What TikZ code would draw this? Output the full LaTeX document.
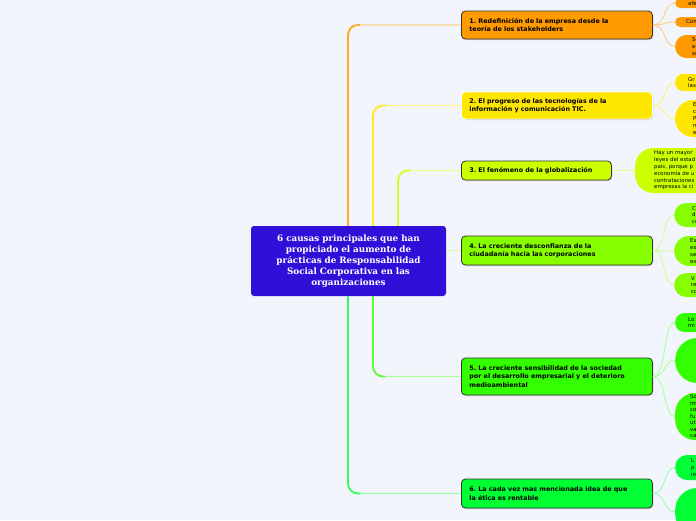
\documentclass[tikz,border=0pt]{standalone}
\usepackage{fontspec}
\newfontfamily\verd{DejaVu Sans}
\newfontfamily\geor{DejaVu Serif}
\usetikzlibrary{calc, positioning, shadows}
\frenchspacing

\definecolor{bgc}{HTML}{F3F5FC}
\definecolor{rootc}{HTML}{3010D8}
\definecolor{c1}{HTML}{FF9A00}
\definecolor{c2}{HTML}{FFE600}
\definecolor{c3}{HTML}{CCFF00}
\definecolor{c4}{HTML}{88FF00}
\definecolor{c5}{HTML}{33FF00}
\definecolor{c6}{HTML}{00FF33}

\tikzset{
  rootbox/.style={fill=rootc, rounded corners=3pt, minimum width=195pt, minimum height=70pt,
    text width=190pt, inner sep=0pt, align=center, text=white,
    font=\geor\bfseries\fontsize{8.8}{11}\selectfont},
  branch/.style={fill=#1, draw=black!80, line width=0.8pt, rounded corners=4pt, anchor=west,
    minimum width=191pt, text width=175pt, inner xsep=8pt, inner ysep=0pt, align=left,
    font=\verd\bfseries\fontsize{6.4}{8.5}\selectfont,
    drop shadow={shadow xshift=1pt, shadow yshift=-1pt, opacity=0.35}},
  leaf/.style={fill=#1, anchor=west, inner xsep=14pt, inner ysep=0pt, text width=60pt,
    align=left, font=\verd\fontsize{5.4}{6.8}\selectfont},
  hard/.style={draw=#1, line width=1.8pt, rounded corners=10pt},
  soft/.style={draw=#1, line width=1.2pt, rounded corners=10pt},
  twig/.style={draw=#1, line width=0.9pt}
}

\begin{document}
\begin{tikzpicture}[x=1pt, y=-1pt]
\path[use as bounding box, fill=bgc] (0,0) rectangle (696,520);
\clip (0,0) rectangle (696,520);

\node[rootbox] (root) at (348.5,261) {6 causas principales que han\\ propiciado el aumento de\\ prácticas de Responsabilidad\\ Social Corporativa en las\\ organizaciones};

% main branches
\node[branch=c1, minimum height=28pt] (b1) at (461,25) {1. Redefinición de la empresa desde la\\ teoría de los stakeholders};
\node[branch=c2, draw=white, minimum height=27pt] (b2) at (461,105.5) {2. El progreso de las tecnologías de la\\ información y comunicación TIC.};
\node[branch=c3, minimum width=150pt, text width=134pt, minimum height=19pt] (b3) at (461,170.5) {3. El fenómeno de la globalización};
\node[branch=c4, minimum height=29pt] (b4) at (461,250.5) {4. La creciente desconfianza de la\\ ciudadanía hacia las corporaciones};
\node[branch=c5, minimum height=37pt] (b5) at (461,376.5) {5. La creciente sensibilidad de la sociedad\\ por el desarrollo empresarial y el deterioro\\ medioambiental};
\node[branch=c6, minimum height=29pt] (b6) at (461,493.5) {6. La cada vez mas mencionada idea de que\\ la ética es rentable};

\coordinate (t1) at ([xshift=-0.5pt]root.north);
\coordinate (t2) at ([xshift=24.5pt]root.north);
\coordinate (t3) at ([xshift=49.5pt]root.north);
\coordinate (s5) at ([xshift=24.5pt]root.south);
\coordinate (s6) at ([xshift=-0.5pt]root.south);

\draw[soft=c1!45] (t1) |- (b1.west);
\draw[hard=c1!85] (t1) |- ($(t1 |- b1.west)+(12,0)$);
\draw[soft=c2!45] (t2) |- (b2.west);
\draw[hard=c2!85] (t2) |- ($(t2 |- b2.west)+(12,0)$);
\draw[soft=c3!45] (t3) |- (b3.west);
\draw[hard=c3!85] (t3) |- ($(t3 |- b3.west)+(12,0)$);
\draw[soft=c4!40] (root.east |- b4.west) -- (b4.west);
\draw[soft=c5!40] (s5) |- (b5.west);
\draw[hard=c5!80] (s5) |- ($(s5 |- b5.west)+(12,0)$);
\draw[soft=c6!40] (s6) |- (b6.west);
\draw[hard=c6!80] (s6) |- ($(s6 |- b6.west)+(12,0)$);

% leaves
\node[leaf=c1, minimum height=10pt, rounded corners=5pt, inner xsep=13pt] (l1a) at (675,3) {afe};
\node[leaf=c1, minimum height=10pt, rounded corners=5pt, inner xsep=11pt] (l1b) at (675,22) {Con};
\node[leaf=c1, minimum height=23pt, rounded corners=11pt, inner xsep=17pt] (l1c) at (675,46.5) {Se\\ es\\ su};
\node[leaf=c2, minimum height=17pt, rounded corners=8pt, inner xsep=13pt] (l2a) at (675,82.5) {Gr\\ las};
\node[leaf=c2, minimum height=37pt, rounded corners=18pt, inner xsep=18pt] (l2b) at (675,118.5) {E\\ c\\ P\\ n\\ e};
\node[leaf=c3, minimum height=45pt, rounded corners=18pt, inner xsep=19pt] (l3) at (635,170.5) {Hay un mayor\\ leyes del estad\\ país, porque p\\ economía de u\\ contrataciones\\ empresas la ci};
\node[leaf=c4, minimum height=24pt, rounded corners=12pt, inner xsep=18pt] (l4a) at (674,215) {C\\ d\\ co};
\node[leaf=c4, minimum height=30pt, rounded corners=15pt, inner xsep=16pt] (l4b) at (674,251) {Es\\ es\\ se\\ ex};
\node[leaf=c4, minimum height=24pt, rounded corners=12pt, inner xsep=17pt] (l4c) at (674,285) {V\\ re\\ co};
\node[leaf=c5, minimum height=19pt, rounded corners=9pt, inner xsep=13pt] (l5a) at (675,322.5) {Lo\\ mi};
\node[leaf=c5, minimum height=45pt, rounded corners=22pt] (l5b) at (675,360.5) {};
\node[leaf=c5, minimum height=47pt, rounded corners=20pt, inner xsep=15pt, font=\verd\fontsize{5.4}{6.5}\selectfont] (l5c) at (675,416.5) {So\\ im\\ co\\ fu\\ ut\\ va\\ ca};
\node[leaf=c6, minimum height=25pt, rounded corners=12pt, inner xsep=16pt] (l6a) at (675,467.5) {L\\ p\\ in};
\node[leaf=c6, minimum height=48pt, rounded corners=22pt] (l6b) at (675,512) {};

\draw[twig=c1!50] (b1.east) .. controls +(14,0) and +(-12,0) .. (l1a.west);
\draw[twig=c1!50] (b1.east) .. controls +(14,0) and +(-12,0) .. (l1b.west);
\draw[twig=c1!50] (b1.east) .. controls +(14,0) and +(-12,0) .. (l1c.west);
\draw[twig=c2!50] (b2.east) .. controls +(14,0) and +(-12,0) .. (l2a.west);
\draw[twig=c2!50] (b2.east) .. controls +(14,0) and +(-12,0) .. (l2b.west);
\draw[twig=c3!50] (b3.east) -- (l3.west);
\draw[twig=c4!40] (b4.east) .. controls +(14,0) and +(-12,0) .. (l4a.west);
\draw[twig=c4!40] (b4.east) .. controls +(14,0) and +(-12,0) .. (l4b.west);
\draw[twig=c4!40] (b4.east) .. controls +(14,0) and +(-12,0) .. (l4c.west);
\draw[twig=c5!40] (b5.east) .. controls +(14,0) and +(-12,0) .. (l5a.west);
\draw[twig=c5!40] (b5.east) .. controls +(14,0) and +(-12,0) .. (l5b.west);
\draw[twig=c5!40] (b5.east) .. controls +(14,0) and +(-12,0) .. (l5c.west);
\draw[twig=c6!40] (b6.east) .. controls +(14,0) and +(-12,0) .. (l6a.west);
\draw[twig=c6!40] (b6.east) .. controls +(14,0) and +(-12,0) .. (l6b.west);
\end{tikzpicture}
\end{document}
